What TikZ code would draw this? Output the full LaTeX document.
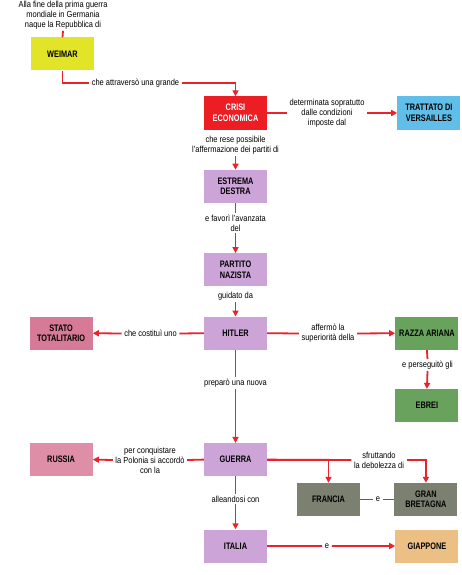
\documentclass[tikz,border=0pt]{standalone}
\usepackage{fontspec}
\setmainfont{Liberation Sans}[FakeStretch=0.85]
\newfontfamily\boxfont{Liberation Sans}[FakeStretch=0.78]
\usetikzlibrary{arrows.meta,positioning}
\definecolor{linkred}{RGB}{234,34,44}
\definecolor{weimaryellow}{RGB}{226,228,40}
\definecolor{crisired}{RGB}{236,30,36}
\definecolor{versblue}{RGB}{96,190,232}
\definecolor{nazipurple}{RGB}{204,164,216}
\definecolor{statopink}{RGB}{214,122,152}
\definecolor{russiapink}{RGB}{222,142,166}
\definecolor{razzagreen}{RGB}{104,162,92}
\definecolor{allygrey}{RGB}{124,128,112}
\definecolor{japantan}{RGB}{236,192,132}

\begin{document}
\begin{tikzpicture}[x=1pt, y=-1pt, >={Triangle[length=6pt,width=6pt]},
      font=\fontsize{8.8}{10}\selectfont,
      box/.style={minimum width=63pt, minimum height=33pt, align=center,
                  inner sep=1pt, font=\boxfont\fontsize{9.4}{10.5}\selectfont\bfseries},
      lbl/.style={align=center, inner xsep=2.5pt, inner ysep=1.5pt, fill=white},
      link/.style={draw=linkred, line width=1.8pt},
      linkarr/.style={link, ->}
    ]
    \fill[white] (0,0) rectangle (462,575);
    \useasboundingbox (0,0) rectangle (462,575);

    % main column
    \node[box, fill=crisired, text=white] (crisi) at (235.5,113) {CRISI\\ECONOMICA};
    \node[box, fill=nazipurple, below=40pt of crisi] (estrema) {ESTREMA\\DESTRA};
    \node[box, fill=nazipurple, below=50pt of estrema] (partito) {PARTITO\\NAZISTA};
    \node[box, fill=nazipurple, below=30pt of partito] (hitler) {HITLER};
    \node[box, fill=nazipurple, below=93pt of hitler] (guerra) {GUERRA};
    \node[box, fill=nazipurple, below=53pt of guerra] (italia) {ITALIA};

    % side boxes
    \node[box, fill=weimaryellow] (weimar) at (62.5,54) {WEIMAR};
    \node[box, fill=versblue, right=130pt of crisi] (trattato) {TRATTATO DI\\VERSAILLES};
    \node[box, fill=statopink, left=111pt of hitler] (stato) {STATO\\TOTALITARIO};
    \node[box, fill=razzagreen, right=128pt of hitler] (razza) {RAZZA ARIANA};
    \node[box, fill=razzagreen, below=39pt of razza] (ebrei) {EBREI};
    \node[box, fill=russiapink, left=111pt of guerra] (russia) {RUSSIA};
    \node[box, fill=allygrey] (francia) at (328.5,499.5) {FRANCIA};
    \node[box, fill=allygrey, right=34pt of francia] (gb) {GRAN\\BRETAGNA};
    \node[box, fill=japantan, right=128pt of italia] (giappone) {GIAPPONE};

    % labels
    \node[lbl] (intro) at (63,15) {Alla fine della prima guerra\\mondiale in Germania\\naque la Repubblica di};
    \node[lbl] (lattr) at (135.5,83) {che attraversò una grande};
    \node[lbl] (ldet) at (327,113) {determinata sopratutto\\dalle condizioni\\imposte dal};
    \node[lbl] (lrese) at (235.5,145) {che rese possibile\\l'affermazione dei partiti di};
    \node[lbl] (lfav) at (235.5,223) {e favorì l'avanzata\\del};
    \node[lbl] (lguid) at (235.5,296) {guidato da};
    \node[lbl] (lcost) at (150.5,333.5) {che costituì uno};
    \node[lbl] (lafferm) at (328,333.5) {affermò la\\superiorità della};
    \node[lbl] (lpers) at (427.5,365) {e perseguitò gli};
    \node[lbl] (lprep) at (235.5,383) {preparò una nuova};
    \node[lbl] (lconq) at (150,460) {per conquistare\\la Polonia si accordò\\con la};
    \node[lbl] (lsfrut) at (379,460) {sfruttando\\la debolezza di};
    \node[lbl] (le1) at (378,499.5) {e};
    \node[lbl] (lall) at (235.5,499) {alleandosi con};
    \node[lbl] (le2) at (327,546) {e};

    % connectors
    \draw[link] (intro.south) -- (weimar.north);
    \draw[link] (weimar.south) |- (lattr.west);
    \draw[linkarr] (lattr.east) -| (crisi.north);
    \draw[link] (crisi.east) -- (ldet.west);
    \draw[linkarr] (ldet.east) -- (trattato.west);
    \draw[linkarr] (lrese.south) -- (estrema.north);
    \draw[link] (estrema.south) -- (lfav.north);
    \draw[linkarr] (lfav.south) -- (partito.north);
    \draw[linkarr] (lguid.south) -- (hitler.north);
    \draw[link] (hitler.west) -- (lcost.east);
    \draw[linkarr] (lcost.west) -- (stato.east);
    \draw[link] (hitler.east) -- (lafferm.west);
    \draw[linkarr] (lafferm.east) -- (razza.west);
    \draw[link] (razza.south) -- (lpers.north);
    \draw[linkarr] (lpers.south) -- (ebrei.north);
    \draw[link] (hitler.south) -- (lprep.north);
    \draw[linkarr] (lprep.south) -- (guerra.north);
    \draw[link] (guerra.west) -- (lconq.east);
    \draw[linkarr] (lconq.west) -- (russia.east);
    \draw[link] (guerra.east) -- (lsfrut.west);
    \draw[linkarr] (lsfrut.east) -| (gb.north);
    \draw[linkarr] (guerra.east) -| (francia.north);
    \draw[link] (francia.east) -- (le1.west);
    \draw[link] (le1.east) -- (gb.west);
    \draw[link] (guerra.south) -- (lall.north);
    \draw[linkarr] (lall.south) -- (italia.north);
    \draw[link] (italia.east) -- (le2.west);
    \draw[linkarr] (le2.east) -- (giappone.west);
  \end{tikzpicture}
\end{document}
